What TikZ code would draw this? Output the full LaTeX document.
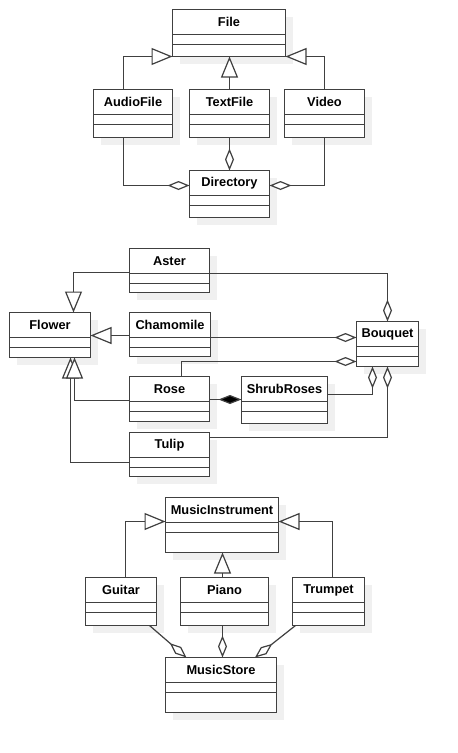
\documentclass[tikz,border=0pt]{standalone}
\usepackage{fontspec}
\setmainfont{Liberation Sans}
\usetikzlibrary{arrows.meta,calc}
\definecolor{linec}{HTML}{404040}
\definecolor{shadowc}{HTML}{F0F0F0}
\tikzset{
  box/.style={draw=linec, line width=1.3pt, fill=white, inner sep=0pt, outer sep=0pt, rectangle},
  lbl/.style={font=\bfseries\fontsize{12.8}{14}\selectfont, text=black, inner sep=0pt},
  conn/.style={draw=linec, line width=1.2pt},
  gen/.style={conn, -{Triangle[open, length=21pt, width=17pt, fill=white]}},
  agg/.style={conn, -{Diamond[open, length=22pt, width=9pt, fill=white]}},
  comp/.style={conn, -{Diamond[length=23pt, width=9pt, fill=black]}},
}
% \umlclass{name}{x1}{y1}{x2}{y2}{d1}{d2}{label}
\newcommand{\umlclass}[8]{%
  \pgfmathsetmacro{\cw}{#4-#2}%
  \pgfmathsetmacro{\ch}{#5-#3}%
  \pgfmathsetmacro{\cx}{(#2+#4)/2}%
  \pgfmathsetmacro{\cy}{(#3+#6)/2}%
  \fill[shadowc] (#2+7,#3+7) rectangle (#4+7,#5+7);
  \node[box, minimum width=\cw pt, minimum height=\ch pt, anchor=north west] (#1) at (#2,#3) {};
  \draw[draw=linec, line width=1.2pt] (#2,#6) -- (#4,#6) (#2,#7) -- (#4,#7);
  \node[lbl] (#1-t) at (\cx,\cy) {#8};
}
\begin{document}
\begin{tikzpicture}[x=1pt,y=-1pt]
\useasboundingbox (0,0) rectangle (458,753);
\fill[white] (0,0) rectangle (458,753);

% ---------- File group ----------
\umlclass{File}{172.5}{9.5}{285.5}{56.5}{34.5}{44.5}{File}
\umlclass{AudioFile}{93.5}{89.5}{172.5}{137.5}{114.5}{124.5}{AudioFile}
\umlclass{TextFile}{189.5}{89.5}{269.5}{137.5}{114.5}{124.5}{TextFile}
\umlclass{Video}{284.5}{89.5}{364.5}{137.5}{114.5}{124.5}{Video}
\umlclass{Directory}{189.5}{170.5}{269.5}{217.5}{195.5}{205.5}{Directory}

\draw[gen] ($(AudioFile.north west)+(30,0)$) |- (File.south west);
\draw[gen] (Video.north) |- (File.south east);
\draw[gen] (TextFile.north) -- (TextFile.north |- File.south);
\draw[agg] ($(AudioFile.south west)+(30,0)$) |- ($(Directory.north west)+(0,15)$);
\draw[agg] (TextFile.south) -- (TextFile.south |- Directory.north);
\draw[agg] (Video.south) |- ($(Directory.north east)+(0,15)$);

% ---------- Flower group ----------
\umlclass{Aster}{129.5}{248.5}{209.5}{292.5}{273.5}{283.5}{Aster}
\umlclass{Flower}{9.5}{312.5}{90.5}{357.5}{337.5}{347.5}{Flower}
\umlclass{Chamomile}{129.5}{312.5}{210.5}{356.5}{337.5}{347.5}{Chamomile}
\umlclass{Rose}{129.5}{376.5}{209.5}{421.5}{401.5}{411.5}{Rose}
\umlclass{Tulip}{129.5}{432.5}{209.5}{476.5}{457.5}{467.5}{Tulip}
\umlclass{Bouquet}{356.5}{321.5}{418.5}{366.5}{346.5}{356.5}{Bouquet}
\umlclass{ShrubRoses}{241.5}{376.5}{327.5}{423.5}{401.5}{411.5}{ShrubRoses}

\draw[gen] ($(Aster.north west)+(0,24)$) -| ($(Flower.north west)+(64,0)$);
\draw[gen] ($(Chamomile.north west)+(0,23)$) coordinate (ch1) -- (ch1 -| Flower.east);
\draw[gen] ($(Tulip.north west)+(0,30)$) -| ($(Flower.south west)+(61,0)$);
\draw[gen] ($(Rose.north west)+(0,24)$) -| ($(Flower.south west)+(65,0)$);

\draw[agg] ($(Aster.north east)+(0,25)$) -| (Bouquet.north);
\draw[agg] ($(Chamomile.north east)+(0,25)$) coordinate (ch2) -- (ch2 -| Bouquet.west);
\draw[agg] ($(Rose.north west)+(52,0)$) |- ($(Bouquet.north west)+(0,40)$);
\draw[agg] ($(ShrubRoses.north east)+(0,18)$) -| ($(Bouquet.south west)+(16,0)$);
\draw[agg] ($(Tulip.north east)+(0,5)$) -| (Bouquet.south);
\draw[comp] ($(Rose.north east)+(0,23)$) coordinate (r1) -- (r1 -| ShrubRoses.west);

% ---------- Music group ----------
\umlclass{MI}{165.5}{497.5}{278.5}{552.5}{522.5}{532.5}{MusicInstrument}
\umlclass{Guitar}{85.5}{577.5}{156.5}{625.5}{602.5}{612.5}{Guitar}
\umlclass{Piano}{180.5}{577.5}{268.5}{625.5}{602.5}{612.5}{Piano}
\umlclass{Trumpet}{292.5}{577.5}{364.5}{625.5}{602.5}{612.5}{Trumpet}
\umlclass{MusicStore}{165.5}{657.5}{276.5}{712.5}{682.5}{692.5}{MusicStore}

\draw[gen] ($(Guitar.north west)+(40,0)$) |- ($(MI.north west)+(0,24)$);
\draw[gen] ($(Trumpet.north west)+(40,0)$) |- ($(MI.north east)+(0,24)$);
\draw[gen] ($(Piano.north west)+(42,0)$) coordinate (p1) -- (p1 |- MI.south);
\draw[agg] ($(Guitar.south west)+(64,0)$) -- ($(MusicStore.north west)+(21,0)$);
\draw[agg] ($(Piano.south west)+(42,0)$) coordinate (p2) -- (p2 |- MusicStore.north);
\draw[agg] ($(Trumpet.south west)+(3,0)$) -- ($(MusicStore.north west)+(89.5,0)$);
\end{tikzpicture}
\end{document}
